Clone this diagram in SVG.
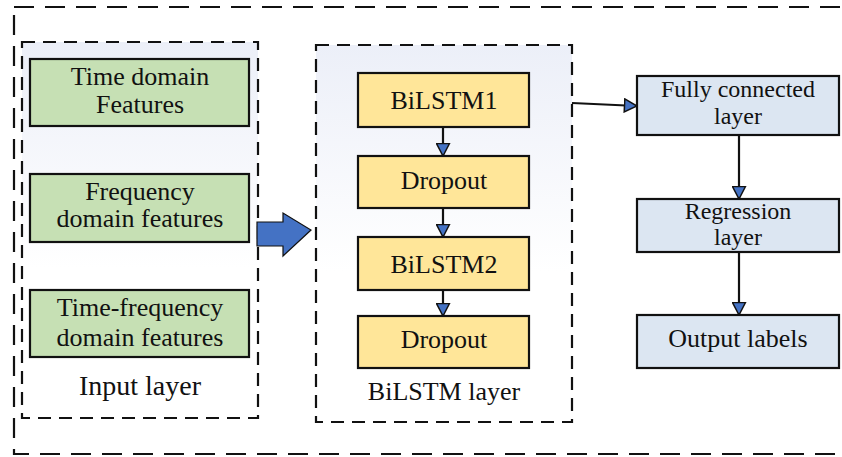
<svg xmlns="http://www.w3.org/2000/svg" width="842" height="457" viewBox="0 0 842 457">
<style>
text{font-family:"Liberation Serif","Times New Roman",serif;font-size:26px;fill:#111;text-anchor:middle}
.tight{font-size:24px}
.frame{fill:none;stroke:#111;stroke-width:2.2;stroke-dasharray:20 11}
.grp{stroke:#111;stroke-width:2.2;stroke-dasharray:13 8}
.g{fill:#c6e0b4;stroke:#111;stroke-width:2.2}
.y{fill:#ffe699;stroke:#111;stroke-width:2.2}
.b{fill:#dce6f2;stroke:#111;stroke-width:2.2}
.ln{fill:none;stroke:#111;stroke-width:2.2}
</style>
<defs>
<linearGradient id="bg" x1="0" y1="0" x2="0" y2="1">
<stop offset="0" stop-color="#eceff8"/>
<stop offset="0.6" stop-color="#ffffff"/>
<stop offset="1" stop-color="#ffffff"/>
</linearGradient>
<marker id="ah" viewBox="0 0 14 15" refX="13.5" refY="7.5" markerWidth="14" markerHeight="15" markerUnits="userSpaceOnUse" orient="auto">
<path d="M1,1 L13.5,7.5 L1,14 Z" fill="#4472c4" stroke="#111" stroke-width="1.5"/>
</marker>
</defs>
<rect class="frame" x="14" y="7" width="900" height="447"/>
<g id="input-layer">
<rect class="grp" x="22" y="42" width="236" height="376" fill="url(#bg)"/>
<text x="140" y="395" style="font-size:28px">Input layer</text>
</g>
<g id="time-domain">
<rect class="g" x="30" y="59" width="219" height="67"/>
<text x="140" y="85">Time domain</text>
<text x="140" y="113">Features</text>
</g>
<g id="freq-domain">
<rect class="g" x="30" y="174" width="219" height="68"/>
<text x="140" y="200">Frequency</text>
<text x="140" y="227">domain features</text>
</g>
<g id="tf-domain">
<rect class="g" x="30" y="290" width="219" height="67"/>
<text x="140" y="316">Time-frequency</text>
<text x="140" y="346">domain features</text>
</g>
<g id="bilstm-layer">
<rect class="grp" x="316" y="45" width="256" height="377" fill="url(#bg)"/>
<text x="444" y="400">BiLSTM layer</text>
</g>
<g id="bilstm1">
<rect class="y" x="358" y="73" width="171" height="54"/>
<text x="444" y="109">BiLSTM1</text>
</g>
<g id="dropout1">
<rect class="y" x="358" y="156" width="171" height="52"/>
<text x="444" y="189">Dropout</text>
</g>
<g id="bilstm2">
<rect class="y" x="358" y="237" width="171" height="53"/>
<text x="444" y="273">BiLSTM2</text>
</g>
<g id="dropout2">
<rect class="y" x="358" y="316" width="171" height="52"/>
<text x="444" y="348">Dropout</text>
</g>
<g id="fully-connected">
<rect class="b" x="637" y="76" width="202" height="59"/>
<text class="tight" x="738" y="97">Fully connected</text>
<text class="tight" x="738" y="124">layer</text>
</g>
<g id="regression">
<rect class="b" x="637" y="199" width="202" height="53"/>
<text class="tight" x="738" y="219">Regression</text>
<text class="tight" x="738" y="245">layer</text>
</g>
<g id="output-labels">
<rect class="b" x="637" y="315" width="202" height="53"/>
<text x="738" y="347">Output labels</text>
</g>
<g id="connectors">
<path d="M257,222 L283,222 L283,213 L311,230 L283,256 L283,246 L257,246 Z" fill="#4472c4" stroke="#111" stroke-width="1.2"/>
<line class="ln" x1="443" y1="127" x2="443" y2="156" marker-end="url(#ah)"/>
<line class="ln" x1="443" y1="208" x2="443" y2="237" marker-end="url(#ah)"/>
<line class="ln" x1="443" y1="290" x2="443" y2="316" marker-end="url(#ah)"/>
<line class="ln" x1="572" y1="103" x2="637" y2="106" marker-end="url(#ah)"/>
<line class="ln" x1="739" y1="135" x2="739" y2="199" marker-end="url(#ah)"/>
<line class="ln" x1="739" y1="252" x2="739" y2="315" marker-end="url(#ah)"/>
</g>
</svg>
